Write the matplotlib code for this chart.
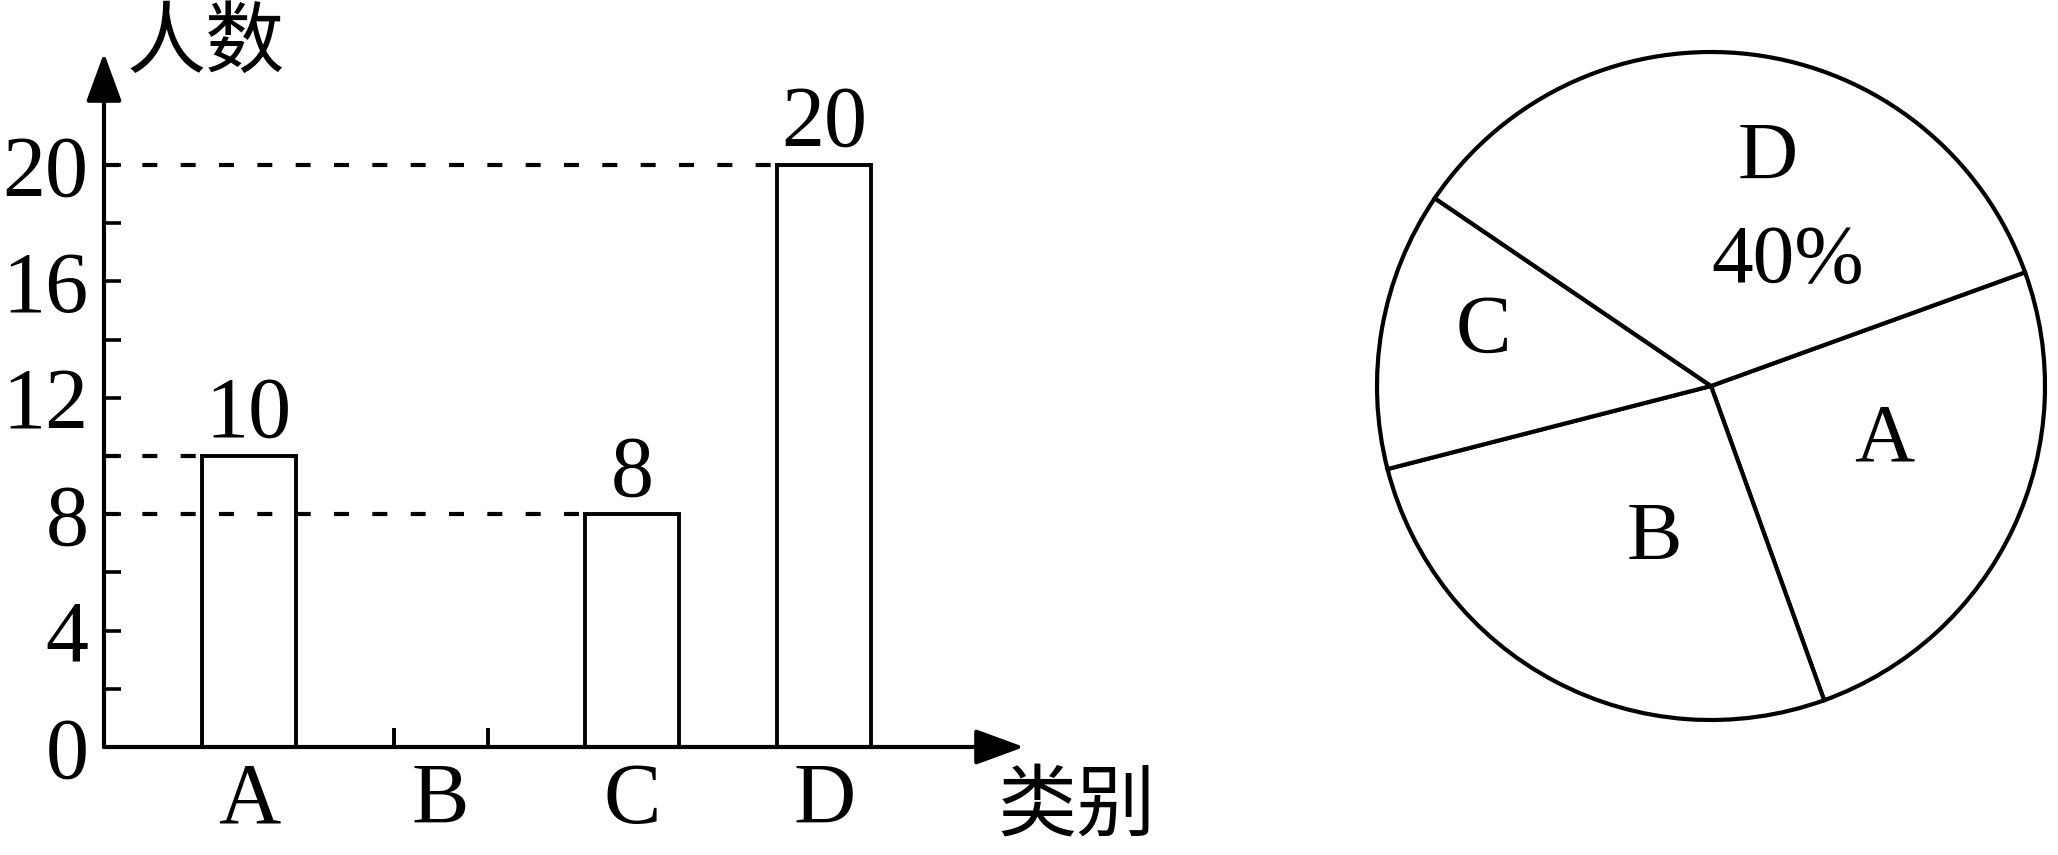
import matplotlib.pyplot as plt

plt.rcParams['font.family'] = ['Liberation Serif', 'Noto Sans CJK SC']

# bar chart data (B is left blank in the figure)
categories = ['A', 'B', 'C', 'D']
bar_cats = ['A', 'C', 'D']
bar_values = [10, 8, 20]
guide_values = [20, 10, 8]
guide_targets = ['D', 'A', 'C']
y_major = [0, 4, 8, 12, 16, 20]
y_minor = [2, 6, 10, 14, 18]

# pie chart data, sector angles in degrees as drawn
pie_labels = ['A', 'B', 'C', 'D']
pie_angles = [90.1, 95.4, 48.6, 125.9]
d_percent = '40%'

fig = plt.figure(figsize=(20.58, 8.55), dpi=100)

# ---- bar chart ----
ax = fig.add_axes([104/2058, 108/855, 920/2058, 694/855])
pos = {c: i + 1 for i, c in enumerate(categories)}
w = 0.49
lw = 2.8

ax.set_xlim(0.245, 5.042)
ax.set_ylim(0, 23.85)

ax.bar([pos[c] for c in bar_cats], bar_values, width=w, facecolor='none',
       edgecolor='black', linewidth=lw, zorder=3)
ax.vlines([pos['B'] - w/2, pos['B'] + w/2], 0, 0.65, color='black', linewidth=lw)

for v, c in zip(guide_values, guide_targets):
    ax.hlines(v, 0.245, pos[c] - w/2, color='black', linewidth=3,
              linestyles=(0, (3.6, 5.6)), zorder=4)

for c, v in zip(bar_cats, bar_values):
    ax.text(pos[c], v + 0.65, str(v), ha='center', va='baseline', fontsize=62)

for s in ax.spines.values():
    s.set_visible(False)

arrow = dict(arrowstyle='-|>,head_length=1.5,head_width=0.55', color='black',
             lw=3, shrinkA=0, shrinkB=0, mutation_scale=20)
ax.annotate('', xy=(1, 0), xytext=(0, 0), xycoords='axes fraction',
            arrowprops=arrow, annotation_clip=False)
ax.annotate('', xy=(0, 1), xytext=(0, 0), xycoords='axes fraction',
            arrowprops=arrow, annotation_clip=False)

ax.set_yticks(y_major)
ax.set_yticks(y_minor, minor=True)
ax.tick_params(axis='y', which='both', direction='in', length=12, width=2.6,
               pad=11, labelsize=62)
ax.set_xticks(list(pos.values()), categories)
ax.tick_params(axis='x', length=0, pad=11, labelsize=62)

fig.text(206/2058, 1 - 47/855, '人数', ha='center', va='center', fontsize=57)
fig.text(1076/2058, 1 - 810/855, '类别', ha='center', va='center', fontsize=57)

# ---- pie chart ----
ax2 = fig.add_axes([(1711 - 334)/2058, (855 - 386 - 334)/855, 668/2058, 668/855])
wedges, _ = ax2.pie(pie_angles, startangle=19.9, counterclock=False,
                    wedgeprops=dict(facecolor='white', edgecolor='black', linewidth=3))
for wd in wedges:
    wd.set_clip_on(False)
ax2.set_aspect('auto')
ax2.set_xlim(-1, 1)
ax2.set_ylim(-1, 1)
ax2.axis('off')

label_xy = {'A': (0.52, -0.165), 'B': (-0.17, -0.46), 'C': (-0.68, 0.16), 'D': (0.17, 0.68)}
for lab in pie_labels:
    x, y = label_xy[lab]
    ax2.text(x, y, lab, ha='center', va='center', fontsize=60)
ax2.text(0.23, 0.37, d_percent, ha='center', va='center', fontsize=60)

fig.savefig('out.png', dpi=100, facecolor='white')
